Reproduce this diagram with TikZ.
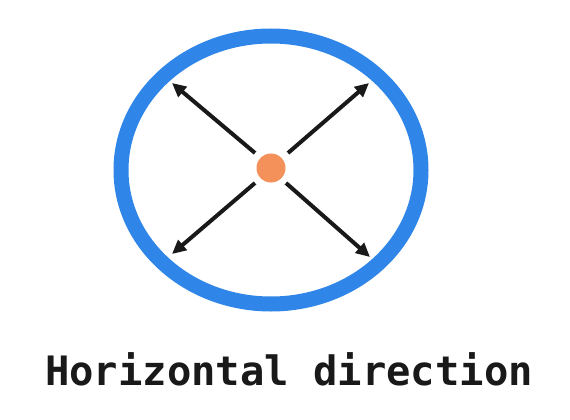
\documentclass[tikz,border=0pt]{standalone}
\usepackage{fontspec}
\newfontfamily\monofont{DejaVu Sans Mono}
\usetikzlibrary{arrows.meta}
\definecolor{ringblue}{HTML}{2F86E8}
\definecolor{dotorange}{HTML}{F4905A}
\tikzset{
  ring/.style={draw=ringblue, line width=15pt},
  dot/.style={circle, fill=dotorange, inner sep=0pt, minimum size=29pt},
  dirarrow/.style={draw=black!90, line width=4pt, -{Triangle[length=14pt,width=13pt]}},
  label/.style={font=\monofont\bfseries\fontsize{40.5}{48}\selectfont, anchor=base, inner sep=0pt, text=black!90}
}
\begin{document}
\begin{tikzpicture}[x=1pt,y=-1pt]
\useasboundingbox (0,0) rectangle (570,420);
\fill[white] (0,0) rectangle (570,420);
\draw[ring] (271,170) ellipse [x radius=150, y radius=134];
\node[dot] (c) at (271,168) {};
\coordinate (s1) at (255,153);
\coordinate (t1) at (172,83);
\coordinate (s2) at (288,153);
\coordinate (t2) at (369,83);
\coordinate (s3) at (255,183);
\coordinate (t3) at (172,254);
\coordinate (s4) at (286,183);
\coordinate (t4) at (370,257);
\draw[dirarrow] (s1) -- (t1);
\draw[dirarrow] (s2) -- (t2);
\draw[dirarrow] (s3) -- (t3);
\draw[dirarrow] (s4) -- (t4);
\node[label] (txt) at (289,385) {Horizontal direction};
\end{tikzpicture}
\end{document}
